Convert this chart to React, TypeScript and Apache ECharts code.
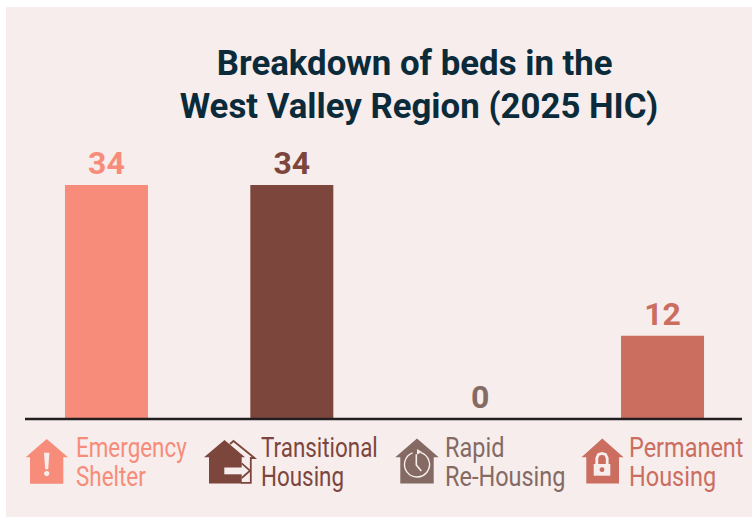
import React, { useEffect, useRef } from "react";
import * as echarts from "echarts";

const categories = ["Emergency Shelter", "Transitional Housing", "Rapid Re-Housing", "Permanent Housing"];
const values = [34, 34, 0, 12];
const colors = ["#F68C79", "#7D463C", "#846A63", "#CB6E60"];
const titleLines = "Breakdown of beds in the \nWest Valley Region (2025 HIC)";
const legendLines = [["Emergency", "Shelter"], ["Transitional", "Housing"], ["Rapid", "Re-Housing"], ["Permanent", "Housing"]];
const legendX = [76, 261, 445, 629];
const legendScale = [0.83, 0.83, 0.87, 0.87];
const BG = "#F6EDEC";

echarts.graphic.registerShape("house0", echarts.graphic.extendPath("M46.7 439L68 457.3L63.3 457.3L63.3 483.7L30 483.7L30 457.3L25.7 457.3Z", {}));
echarts.graphic.registerShape("house1", echarts.graphic.extendPath("M224.5 440L245 457.3L241.7 457.3L241.7 483.5L209 483.5L209 457.3L204 457.3Z", {}));
echarts.graphic.registerShape("house2", echarts.graphic.extendPath("M417 438.5L438.7 457.3L433.7 457.3L433.7 483.5L400.3 483.5L400.3 457.3L395.3 457.3Z", {}));
echarts.graphic.registerShape("house3", echarts.graphic.extendPath("M602.3 438.5L623.5 457.3L619 457.3L619 483.5L586.3 483.5L586.3 457.3L581.5 457.3Z", {}));

function icons(): any[] {
  return [
    { type: "house0", style: { fill: colors[0] } },
    { type: "polygon", shape: { points: [[44, 452.7], [49.4, 452.7], [48.2, 469.3], [45.2, 469.3]] }, style: { fill: BG } },
    { type: "circle", shape: { cx: 46.7, cy: 473.5, r: 2.7 }, style: { fill: BG } },
    { type: "polyline", shape: { points: [[230, 444], [233.5, 441], [254.5, 458], [250.8, 458], [250.8, 482.8], [241, 482.8]] }, style: { fill: "none", stroke: colors[1], lineWidth: 1.8 } },
    { type: "house1", style: { fill: colors[1] } },
    { type: "rect", shape: { x: 224.3, y: 467.5, width: 18, height: 6.8 }, style: { fill: BG } },
    { type: "polyline", shape: { points: [[241.7, 463.3], [250, 470.7], [241.7, 478]] }, style: { fill: "none", stroke: colors[1], lineWidth: 1.8 } },
    { type: "house2", style: { fill: colors[2] } },
    { type: "arc", shape: { cx: 417, cy: 464.5, r: 12.5, startAngle: -1.25, endAngle: 4.35 }, style: { fill: "none", stroke: BG, lineWidth: 1.4 } },
    { type: "polygon", shape: { points: [[417, 449], [422, 452], [417, 454.5]] }, style: { fill: BG } },
    { type: "polyline", shape: { points: [[416.3, 454.3], [416.3, 465], [421.3, 471]] }, style: { fill: "none", stroke: BG, lineWidth: 1.6 } },
    { type: "house3", style: { fill: colors[3] } },
    { type: "polyline", shape: { points: [[596.8, 464.5], [596.8, 458], [598.5, 454.5], [602, 453.5], [605.5, 454.5], [607.2, 458], [607.2, 464.5]] }, style: { fill: "none", stroke: BG, lineWidth: 2.8 } },
    { type: "rect", shape: { x: 593.7, y: 464, width: 16.6, height: 11.7 }, style: { fill: BG } },
    { type: "circle", shape: { cx: 602, cy: 469.7, r: 2.4 }, style: { fill: colors[3] } },
  ];
}

export default function App() {
  const ref = useRef<HTMLDivElement>(null);
  useEffect(() => {
    const chart = echarts.init(ref.current!, null, { renderer: "svg" });
    const unit = 233 / 34;
    chart.setOption({
      animation: false,
      backgroundColor: "#FFFFFF",
      title: {
        text: titleLines,
        left: 414,
        top: 36,
        textAlign: "center",
        textStyle: { fontFamily: "Roboto", fontSize: 34.8, fontWeight: 700, color: "#0B2B3A", lineHeight: 43 },
      },
      grid: { left: 13.8, width: 741.4, top: 418 - 40 * unit, height: 40 * unit, outerBoundsMode: "none" },
      xAxis: {
        type: "category",
        data: categories,
        axisLine: { show: false },
        axisTick: { show: false },
        axisLabel: { show: false },
      },
      yAxis: { type: "value", min: 0, max: 40, show: false, splitLine: { show: false } },
      series: [
        {
          type: "bar",
          barWidth: 83,
          z: 3,
          data: values.map((v, i) => ({
            value: v,
            itemStyle: { color: colors[i] },
            label: { color: colors[i], offset: v === 0 ? [3, 1] : [0, 0] },
          })),
          label: { show: true, position: "top", distance: 6, fontFamily: "Roboto", fontSize: 32, fontWeight: 700 },
        },
      ],
      graphic: [
        { type: "rect", z: -1, shape: { x: 6, y: 7, width: 746, height: 510 }, style: { fill: BG } },
        { type: "line", z: 5, shape: { x1: 25, y1: 419, x2: 742, y2: 419 }, style: { stroke: "#231F20", lineWidth: 2.4 } },
        ...icons().map((e) => ({ ...e, z: 5 })),
        ...legendLines.flatMap((lines, i) =>
          lines.map((t, j) => ({
            type: "text",
            z: 5,
            x: legendX[i],
            y: 448 + j * 29,
            scaleX: legendScale[i],
            style: { text: t, fontFamily: "Roboto", fontSize: 27, fill: colors[i], verticalAlign: "middle", align: "left" },
          }))
        ),
      ],
    });
    return () => chart.dispose();
  }, []);
  return <div ref={ref} style={{ position: "fixed", left: 0, top: 0, width: 752, height: 517 }} />;
}
